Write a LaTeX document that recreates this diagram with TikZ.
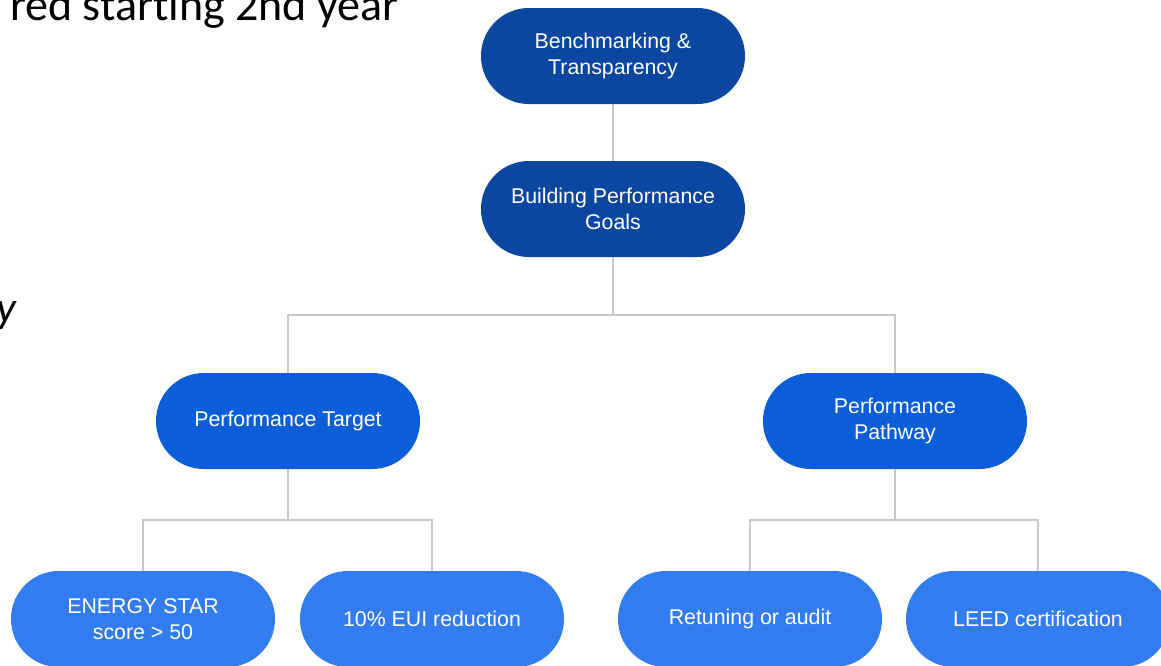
\documentclass[tikz,border=0pt]{standalone}
\usepackage{fontspec}
\setmainfont{Liberation Sans}
\newfontfamily\slidefont[Ligatures=NoCommon]{Carlito}
\definecolor{topblue}{HTML}{0B47A1}
\definecolor{midblue}{HTML}{0B5ED7}
\definecolor{lowblue}{HTML}{337CF0}
\definecolor{linkgray}{HTML}{C8C8C8}
\tikzset{
  pill/.style={rectangle, rounded corners=35.9pt, minimum width=198pt,
    minimum height=72pt, inner sep=0pt, align=center, text=white,
    font=\fontsize{16}{19.5}\selectfont},
  toppill/.style={pill, fill=topblue},
  midpill/.style={pill, fill=midblue},
  lowpill/.style={pill, fill=lowblue},
  link/.style={draw=linkgray, line width=1.5pt},
}
\begin{document}
\begin{tikzpicture}[x=0.75pt, y=-0.75pt]
\useasboundingbox (0,0) rectangle (1161,665);
\clip (0,0) rectangle (1161,665);
\fill[white] (0,0) rectangle (1161,665);

% slide text behind the chart
\node[anchor=base east, inner sep=0pt, font=\slidefont\fontsize{34.5}{40}\selectfont] (heading) at (399,20) {red starting 2nd year};
\node[anchor=base east, inner sep=0pt, font=\slidefont\itshape\fontsize{33}{40}\selectfont] (side) at (16,322) {y};

% nodes
\node[toppill] (bench) at (613,56) {Benchmarking \&\\Transparency};
\node[toppill] (goals) at (613,209) {Building Performance\\Goals};
\node[midpill] (target) at (288,421) {Performance Target};
\node[midpill] (pathway) at (895,421) {Performance\\Pathway};
\node[lowpill] (estar) at (143,619) {ENERGY STAR\\score > 50};
\node[lowpill] (eui) at (432,619) {10\% EUI reduction};
\node[lowpill] (retune) at (750,619) {Retuning or audit};
\node[lowpill] (leed) at (1038,619) {LEED certification};

% junctions
\coordinate (j1) at (613,315);
\coordinate (j2) at (288,520);
\coordinate (j3) at (895,520);

% connectors
\draw[link] (bench.south) -- (goals.north);
\draw[link] (goals.south) -- (j1);
\draw[link] (target.north) |- (j1) -| (pathway.north);
\draw[link] (target.south) -- (j2);
\draw[link] (estar.north) |- (j2) -| (eui.north);
\draw[link] (pathway.south) -- (j3);
\draw[link] (retune.north) |- (j3) -| (leed.north);
\end{tikzpicture}
\end{document}
